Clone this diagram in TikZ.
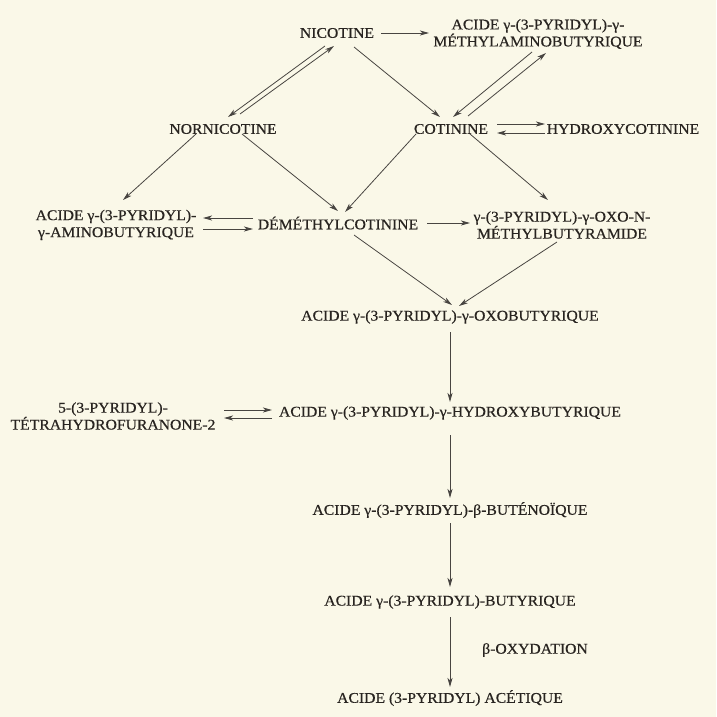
\documentclass[tikz,border=0pt]{standalone}
\usepackage{fontspec}
\setmainfont{Liberation Serif}[FakeStretch=1.06,FakeBold=0.5]
\usetikzlibrary{arrows.meta}
\definecolor{giay}{RGB}{250,248,232}
\definecolor{muc}{RGB}{40,36,32}

\begin{document}
\begin{tikzpicture}[x=1pt,y=-1pt,
	chat/.style={text=muc,inner sep=1pt,align=center,font=\fontsize{14.8}{17}\selectfont},
	mui/.style={draw=muc!85,line width=0.8pt,-{Stealth[length=9pt,width=5pt,inset=2.5pt]}}]
	% Nền
	\fill[giay] (0,0) rectangle (716,717);
	% Các chất
	\node[chat] (nic) at (337,33) {NICOTINE};
	\node[chat] (mab) at (538,34) {ACIDE γ-(3-PYRIDYL)-γ-\\MÉTHYLAMINOBUTYRIQUE};
	\node[chat] (nor) at (223,129) {NORNICOTINE};
	\node[chat] (cot) at (451,129) {COTININE};
	\node[chat] (hyd) at (623,129) {HYDROXYCOTININE};
	\node[chat] (amb) at (116,225) {ACIDE γ-(3-PYRIDYL)-\\γ-AMINOBUTYRIQUE};
	\node[chat] (dem) at (338,223) {DÉMÉTHYLCOTININE};
	\node[chat] (oxn) at (562,225) {γ-(3-PYRIDYL)-γ-OXO-N-\\MÉTHYLBUTYRAMIDE};
	\node[chat] (oxb) at (450,317) {ACIDE γ-(3-PYRIDYL)-γ-OXOBUTYRIQUE};
	\node[chat] (thf) at (113,416) {5-(3-PYRIDYL)-\\TÉTRAHYDROFURANONE-2};
	\node[chat] (hyb) at (450,413) {ACIDE γ-(3-PYRIDYL)-γ-HYDROXYBUTYRIQUE};
	\node[chat] (but) at (450,510) {ACIDE γ-(3-PYRIDYL)-β-BUTÉNOÏQUE};
	\node[chat] (bua) at (450,602) {ACIDE γ-(3-PYRIDYL)-BUTYRIQUE};
	\node[chat] (ace) at (450,698) {ACIDE (3-PYRIDYL) ACÉTIQUE};
	\node[chat] (oxy) at (535,650) {β-OXYDATION};
	% Mũi tên
	\foreach \a/\ax/\ay/\b/\bx/\by in {nic/44/0/mab/-109/-1,
		nic/-12/13/nor/5/-12, nor/17/-15/nic/-3/13, nic/17/14/cot/-11/-12,
		mab/-6/18/cot/2/-12, cot/17/-13/mab/8/19,
		cot/46/-5/hyd/-78/-5, hyd/-78/4/cot/46/4,
		nor/-27/5/amb/7/-25, nor/19/5/dem/0/-12,
		cot/-35/5/dem/7/-11, cot/19/5/oxn/-14/-25,
		dem/-85/-5/amb/87/-7, amb/87/4/dem/-85/6, dem/89/0/oxn/-92/-2,
		dem/16/12/oxb/2/-12, oxn/-5/17/oxb/9/-11,
		thf/111/-6/hyb/-178/-3, hyb/-178/5/thf/111/2,
		oxb/0/15/hyb/0/-11, hyb/0/22/but/0/-12,
		but/0/13/bua/0/-15, bua/0/15/ace/0/-11}
	\draw[mui] ([shift={(\ax,\ay)}]\a.center) -- ([shift={(\bx,\by)}]\b.center);
\end{tikzpicture}
\end{document}
